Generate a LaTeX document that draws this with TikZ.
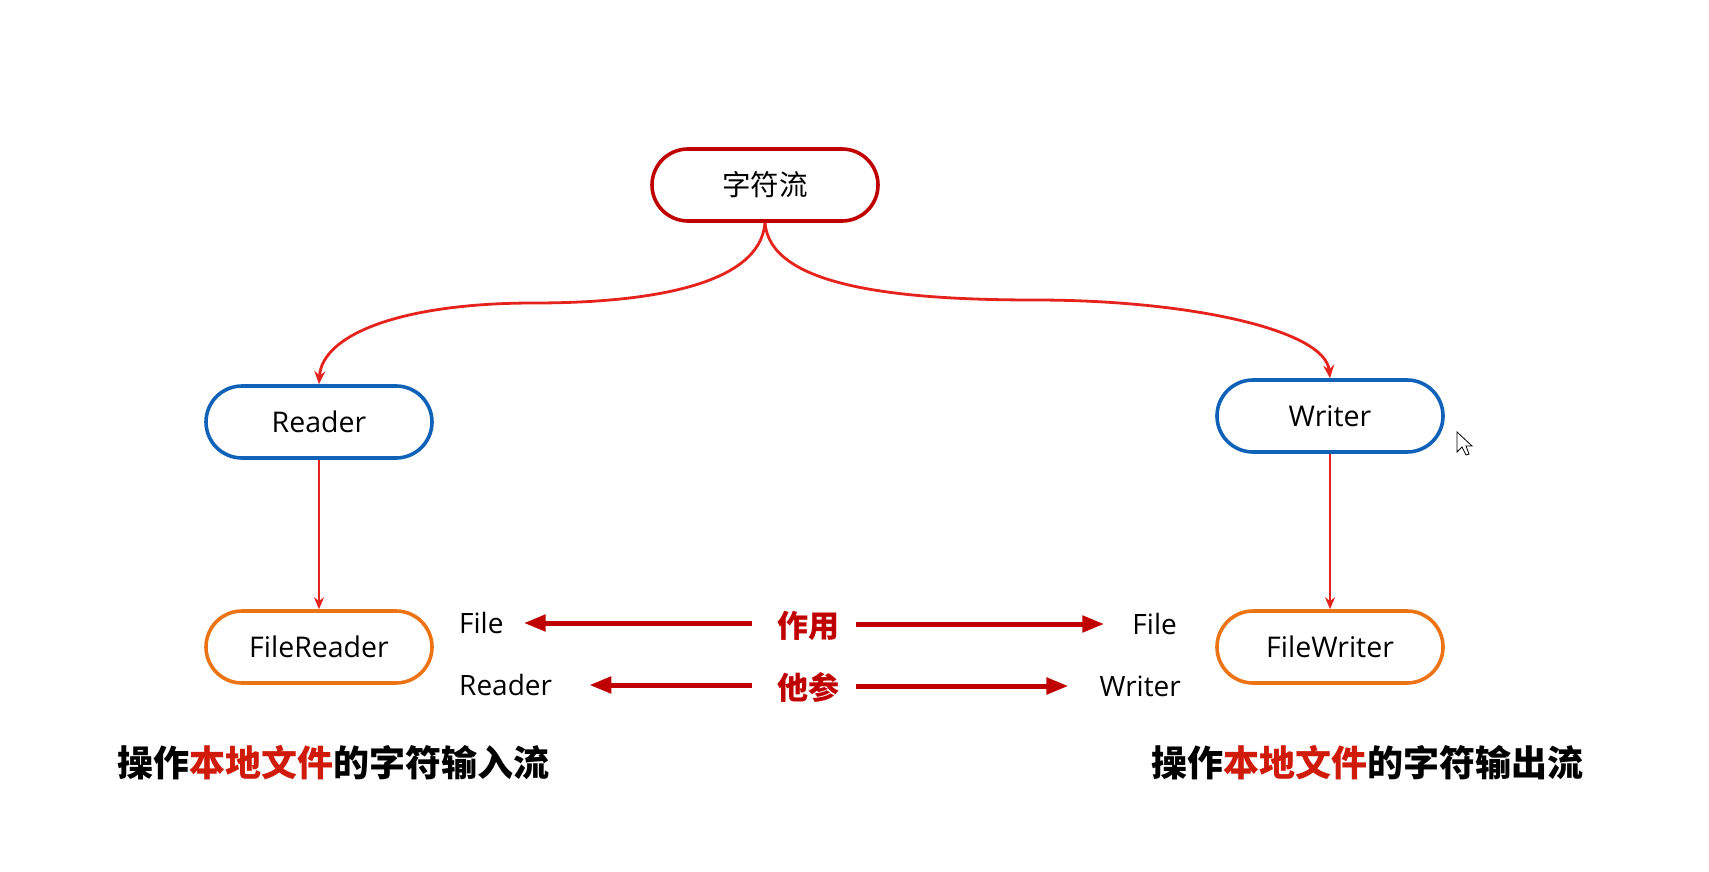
\documentclass[tikz,border=0pt]{standalone}
\usepackage{fontspec}
\setmainfont{Open Sans}
\newfontfamily\cjk{Noto Sans CJK SC}
\newfontfamily\cjkblack{Noto Sans CJK SC Black}
\usetikzlibrary{arrows.meta}
\definecolor{darkred}{HTML}{C00000}
\definecolor{linered}{HTML}{E5221B}
\definecolor{nodeblue}{HTML}{0F62B8}
\definecolor{nodeorange}{HTML}{EC7414}
\definecolor{caprred}{HTML}{D01A0A}
\tikzset{
  pill/.style={draw, line width=3.6pt, rounded corners=36pt, minimum width=226pt, minimum height=72pt, fill=white, inner sep=0pt},
  nodetext/.style={font=\fontsize{28.5}{32}\selectfont},
  lbl/.style={inner sep=0pt, font=\fontsize{28}{32}\selectfont},
  mid/.style={inner sep=0pt, text=darkred, font=\cjkblack\fontsize{31}{34}\selectfont},
  curvearrow/.style={draw=linered, line width=2.8pt, -{Stealth[length=13pt, width=11pt]}},
  vertarrow/.style={draw=linered, line width=2.6pt, -{Stealth[length=12pt, width=10pt]}},
  horarrow/.style={draw=darkred, line width=5pt, -{Triangle[length=22pt, width=16pt]}},
  caption/.style={inner sep=0pt, anchor=west, font=\cjkblack\fontsize{36}{40}\selectfont}
}
\begin{document}
\begin{tikzpicture}[x=1pt, y=-1pt]
\useasboundingbox[fill=white] (0,0) rectangle (1709,872);

\node[pill, draw=darkred, nodetext] (top) at (765,185) {\cjk 字符流};
\node[pill, draw=nodeblue, nodetext] (reader) at (319,422) {Reader};
\node[pill, draw=nodeblue, nodetext] (writer) at (1330,416) {Writer};
\node[pill, draw=nodeorange, nodetext] (freader) at (319,647) {FileReader};
\node[pill, draw=nodeorange, nodetext] (fwriter) at (1330,647) {FileWriter};

\draw[curvearrow] (top.south) .. controls (760,285) and (650,303) .. (534,303)
   .. controls (400,303) and (322,335) .. (reader.north);
\draw[curvearrow] (top.south) .. controls (770,285) and (890,300) .. (1035,300)
   .. controls (1190,300) and (1325,330) .. (writer.north);

\draw[vertarrow] (reader.south) -- (freader.north);
\draw[vertarrow] (writer.south) -- (fwriter.north);

\node[mid] (zy) at (808,626) {作用};
\node[mid] (tc) at (808,687) {他参};

\node[lbl, anchor=west] (lf) at (459,623) {File};
\node[lbl, anchor=west] (lr) at (459,685) {Reader};
\node[lbl, anchor=east] (rf) at (1177,624) {File};
\node[lbl, anchor=east] (rw) at (1181,686) {Writer};

\draw[horarrow, shorten <=25pt, shorten >=20pt] (zy.west |- lf.east) -- (lf.east);
\draw[horarrow, shorten <=17pt, shorten >=28pt] (zy.east |- rf.west) -- (rf.west);
\draw[horarrow, shorten <=25pt, shorten >=37pt] (tc.west |- lr.east) -- (lr.east);
\draw[horarrow, shorten <=17pt, shorten >=31pt] (tc.east |- rw.west) -- (rw.west);

\node[caption] (capl) at (117,763) {操作\textcolor{caprred}{本地文件}的字符输入流};
\node[caption] (capr) at (1151,763) {操作\textcolor{caprred}{本地文件}的字符输出流};

\draw[fill=white, draw=black, line width=0.8pt]
  (1457,432) -- (1457,452) -- (1462,447) -- (1466,455) -- (1469,454) -- (1466,446) -- (1472,446) -- cycle;
\end{tikzpicture}
\end{document}
